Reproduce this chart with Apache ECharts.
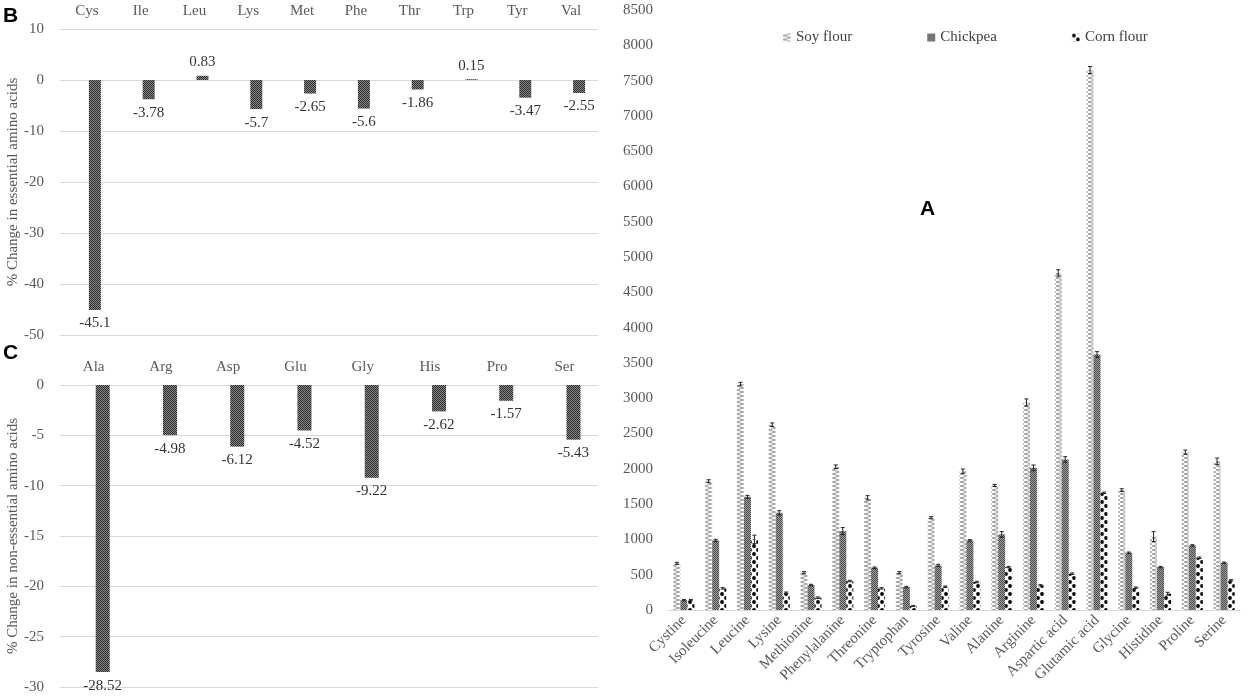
<!DOCTYPE html>
<html>
<head>
<meta charset="utf-8">
<script src="https://cdn.jsdelivr.net/npm/echarts@6/dist/echarts.min.js"></script>
<style>
html,body{margin:0;padding:0;background:#fff;}
#main{width:1248px;height:700px;}
</style>
</head>
<body>
<div id="main"></div>
<script>
// B: essential amino acids
var essNames = ['Cys','Ile','Leu','Lys','Met','Phe','Thr','Trp','Tyr','Val'];
var essChange = [-45.1,-3.78,0.83,-5.7,-2.65,-5.6,-1.86,0.15,-3.47,-2.55];
// C: non-essential amino acids
var nonNames = ['Ala','Arg','Asp','Glu','Gly','His','Pro','Ser'];
var nonChange = [-28.52,-4.98,-6.12,-4.52,-9.22,-2.62,-1.57,-5.43];
// A: amino acid content
var aminoNames = ['Cystine','Isoleucine','Leucine','Lysine','Methionine','Phenylalanine','Threonine','Tryptophan','Tyrosine','Valine','Alanine','Arginine','Aspartic acid','Glutamic acid','Glycine','Histidine','Proline','Serine'];
var soyFlour = [660,1825,3200,2625,528,2030,1590,528,1307,1967,1764,2940,4775,7650,1698,1040,2236,2108];
var chickpea = [140,986,1604,1377,354,1118,599,325,632,986,1071,2014,2132,3620,811,608,915,670];
var cornFlour = [140,307,1000,245,175,410,307,57,330,396,608,349,514,1660,316,231,740,420];
var soyErr = [15,20,25,25,15,25,30,15,15,30,15,50,45,50,20,70,30,45];
var chickErr = [10,15,20,30,10,50,10,10,15,10,40,40,40,40,10,10,10,10];
var cornErr = [10,10,60,10,10,10,10,5,10,10,10,10,10,10,10,20,10,10];
var seriesNames = ['Soy flour','Chickpea','Corn flour'];

function makePattern(w, h, draw){
	var c = document.createElement('canvas');
	c.width = w; c.height = h;
	var ctx = c.getContext('2d');
	ctx.fillStyle = '#fff';
	ctx.fillRect(0,0,w,h);
	draw(ctx);
	return {image: c, repeat: 'repeat'};
}
//深灰格子
var darkChecker = makePattern(2,2,function(ctx){
	ctx.fillStyle = '#8a8a8a'; ctx.fillRect(0,0,2,2);
	ctx.fillStyle = '#2a2a2a'; ctx.fillRect(0,0,1,1); ctx.fillRect(1,1,1,1);
});
var midChecker = makePattern(2,2,function(ctx){
	ctx.fillStyle = '#a0a0a0'; ctx.fillRect(0,0,2,2);
	ctx.fillStyle = '#4a4a4a'; ctx.fillRect(0,0,1,1); ctx.fillRect(1,1,1,1);
});
var zigzag = makePattern(8,4,function(ctx){
	ctx.strokeStyle = '#9a9a9a'; ctx.lineWidth = 1;
	ctx.beginPath(); ctx.moveTo(8,0); ctx.lineTo(0,2); ctx.lineTo(8,4); ctx.stroke();
});
var dots = makePattern(8,8,function(ctx){
	ctx.fillStyle = '#000';
	ctx.beginPath(); ctx.arc(2,2,1.9,0,Math.PI*2); ctx.fill();
	ctx.beginPath(); ctx.arc(6,6,1.9,0,Math.PI*2); ctx.fill();
});

var serif = 'Liberation Serif';
var tickColor = '#595959';

function labelData(vals){
	return vals.map(function(v){
		return {value: v, label: {position: v < 0 ? 'bottom' : 'top'}};
	});
}

function errSeries(vals, errs, k){
	return {
		type: 'custom', xAxisIndex: 2, yAxisIndex: 2, z: 10, silent: true,
		renderItem: function(params, api){
			var i = api.value(0), v = api.value(1), e = api.value(2);
			var hi = api.coord([i, v + e]);
			var lo = api.coord([i, v - e]);
			var x = hi[0] + (k - 1) * 7;
			var st = {stroke: '#222', lineWidth: 1};
			return {type: 'group', children: [
				{type: 'line', shape: {x1: x, y1: hi[1], x2: x, y2: lo[1]}, style: st},
				{type: 'line', shape: {x1: x - 2, y1: hi[1], x2: x + 2, y2: hi[1]}, style: st},
				{type: 'line', shape: {x1: x - 2, y1: lo[1], x2: x + 2, y2: lo[1]}, style: st}
			]};
		},
		data: vals.map(function(v, i){ return [i, v, errs[i]]; })
	};
}

var myChart = echarts.init(document.getElementById('main'));
var option = {
	animation: false,
	textStyle: {fontFamily: serif},
	grid: [
		{left: 60, right: 650, top: 29, height: 306},
		{left: 60, right: 650, top: 385, height: 302},
		{left: 668, right: 8, top: 10, bottom: 90}
	],
	legend: {
		data: seriesNames,
		left: 778, top: 25, icon: 'rect',
		itemWidth: 8, itemHeight: 8, itemGap: 75,
		textStyle: {fontFamily: serif, fontSize: 15, color: '#404040'}
	},
	graphic: [
		{type: 'text', left: 3, top: 6, style: {text: 'B', font: 'bold 21px Liberation Sans', fill: '#000'}},
		{type: 'text', left: 3, top: 343, style: {text: 'C', font: 'bold 21px Liberation Sans', fill: '#000'}},
		{type: 'text', left: 920, top: 199, style: {text: 'A', font: 'bold 21px Liberation Sans', fill: '#000'}}
	],
	xAxis: [
		{gridIndex: 0, type: 'category', position: 'top', data: essNames,
			axisLine: {show: false}, axisTick: {show: false},
			axisLabel: {margin: 10, fontSize: 15, color: tickColor, fontFamily: serif}},
		{gridIndex: 1, type: 'category', position: 'top', data: nonNames,
			axisLine: {show: false}, axisTick: {show: false},
			axisLabel: {margin: 10, fontSize: 15, color: tickColor, fontFamily: serif}},
		{gridIndex: 2, type: 'category', data: aminoNames,
			axisLine: {lineStyle: {color: '#d9d9d9'}}, axisTick: {show: false},
			axisLabel: {interval: 0, rotate: 45, margin: 8, fontSize: 15, color: tickColor, fontFamily: serif}}
	],
	yAxis: [
		{gridIndex: 0, type: 'value', min: -50, max: 10, interval: 10,
			name: '% Change in essential amino acids', nameLocation: 'middle', nameGap: 37,
			nameTextStyle: {fontSize: 15, color: tickColor, fontFamily: serif},
			axisLine: {show: false}, axisTick: {show: false},
			axisLabel: {fontSize: 15, color: tickColor, margin: 16},
			splitLine: {lineStyle: {color: '#d9d9d9'}}},
		{gridIndex: 1, type: 'value', min: -30, max: 0, interval: 5,
			name: '% Change in non-essential amino acids', nameLocation: 'middle', nameGap: 37,
			nameTextStyle: {fontSize: 15, color: tickColor, fontFamily: serif},
			axisLine: {show: false}, axisTick: {show: false},
			axisLabel: {fontSize: 15, color: tickColor, margin: 16},
			splitLine: {lineStyle: {color: '#d9d9d9'}}},
		{gridIndex: 2, type: 'value', min: 0, max: 8500, interval: 500,
			axisLine: {show: false}, axisTick: {show: false},
			axisLabel: {fontSize: 15, color: tickColor, margin: 15, formatter: function(v){ return String(v); }},
			splitLine: {show: false}}
	],
	series: [
		// 空系列把柱子往右挪
		{type: 'bar', xAxisIndex: 0, yAxisIndex: 0, data: essNames.map(function(){ return '-'; }), barWidth: 12, barGap: '33%'},
		{type: 'bar', name: 'ess', xAxisIndex: 0, yAxisIndex: 0, data: labelData(essChange), barWidth: 12, barGap: '33%',
			itemStyle: {color: darkChecker},
			label: {show: true, distance: 6, fontSize: 15, color: '#333', fontFamily: serif}},
		{type: 'bar', xAxisIndex: 1, yAxisIndex: 1, data: nonNames.map(function(){ return '-'; }), barWidth: 14, barGap: '30%'},
		{type: 'bar', name: 'non', xAxisIndex: 1, yAxisIndex: 1, data: labelData(nonChange), barWidth: 14, barGap: '30%',
			itemStyle: {color: darkChecker},
			label: {show: true, distance: 6, fontSize: 15, color: '#333', fontFamily: serif}},
		{type: 'bar', name: 'Soy flour', xAxisIndex: 2, yAxisIndex: 2, data: soyFlour, barWidth: 7, barGap: '0%', itemStyle: {color: zigzag}},
		{type: 'bar', name: 'Chickpea', xAxisIndex: 2, yAxisIndex: 2, data: chickpea, barWidth: 7, barGap: '0%', itemStyle: {color: midChecker}},
		{type: 'bar', name: 'Corn flour', xAxisIndex: 2, yAxisIndex: 2, data: cornFlour, barWidth: 7, barGap: '0%', itemStyle: {color: dots}},
		errSeries(soyFlour, soyErr, 0),
		errSeries(chickpea, chickErr, 1),
		errSeries(cornFlour, cornErr, 2)
	]
};
myChart.setOption(option);
</script>
</body>
</html>
